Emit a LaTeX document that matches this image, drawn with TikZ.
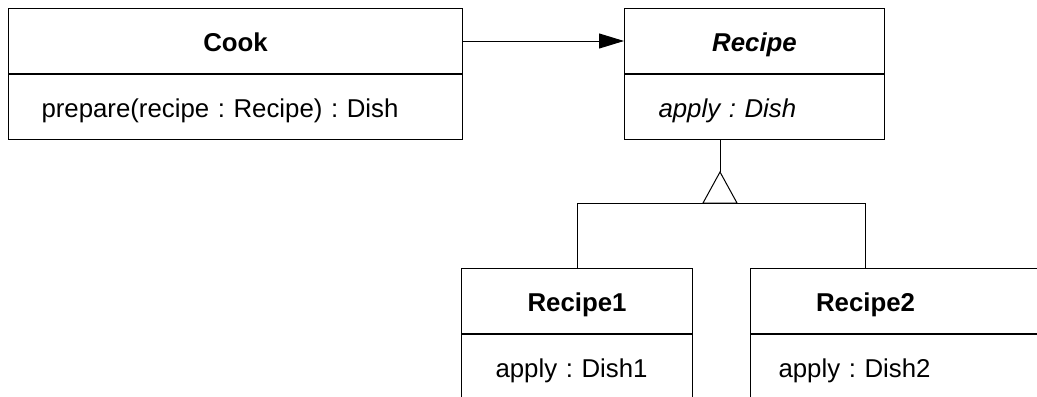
\documentclass[tikz,border=0pt]{standalone}
\usepackage{fontspec}
\setmainfont{Liberation Sans}
\usetikzlibrary{arrows.meta}
\newcommand\umlfont{\fontsize{12.9pt}{15pt}\selectfont\frenchspacing}
\tikzset{
  compartment/.style={draw=black, line width=0.5pt, rectangle, inner ysep=0pt,
    minimum height=32.5pt, text height=10pt, text depth=0pt, anchor=north west},
  classname/.style={compartment, font=\umlfont\bfseries, inner xsep=0pt, minimum width=#1},
  abstractname/.style={classname=#1, font=\umlfont\bfseries\itshape},
  member/.style={compartment, font=\umlfont, align=left},
  assoc/.style={line width=0.5pt, -{Triangle[length=12.5pt,width=7.5pt]}},
  inherit/.style={line width=0.5pt},
}
\begin{document}
\begin{tikzpicture}[x=0.5pt,y=-0.5pt]
\useasboundingbox (0,0) rectangle (1037,396);
\begin{scope}
\clip (-1,-1) rectangle (1037,396);

% client class
\node[classname=227pt] (cookT) at (8,8) {Cook};
\node[member, inner xsep=16.5pt, text width=194pt] (cookB) at (cookT.south west)
  {prepare(recipe : Recipe) : Dish};

% abstract strategy
\node[abstractname=130pt] (recipeT) at (624,8) {Recipe};
\node[member, inner xsep=17pt, text width=96pt, font=\umlfont\itshape] (recipeB)
  at (recipeT.south west) {apply : Dish};

% concrete strategies
\node[classname=115.5pt] (r1T) at (461,268) {Recipe1};
\node[member, inner xsep=17pt, text width=81.5pt] (r1B) at (r1T.south west) {apply : Dish1};

\node[compartment, font=\umlfont\bfseries, inner xsep=0pt, minimum width=400pt,
  text width=400pt, align=left] (r2T) at (750,268) {\makebox[115pt]{Recipe2}};
\node[member, inner xsep=14pt, minimum width=400pt, text width=372pt] (r2B)
  at (r2T.south west) {apply : Dish2};

% association
\draw[assoc] (cookT.east) -- (recipeT.west);

% generalization
\coordinate (apex) at (720,172);
\coordinate (bus) at (720,203);
\coordinate (drop2) at ([xshift=57.5pt]r2T.north west);
\draw[inherit] (apex |- recipeB.south) -- (apex);
\draw[inherit, fill=white] (apex) -- ++(-17,31) -- ++(34,0) -- cycle;
\draw[inherit] (r1T.north) -- (r1T.north |- bus) -- (drop2 |- bus) -- (drop2);
\end{scope}
\end{tikzpicture}
\end{document}
